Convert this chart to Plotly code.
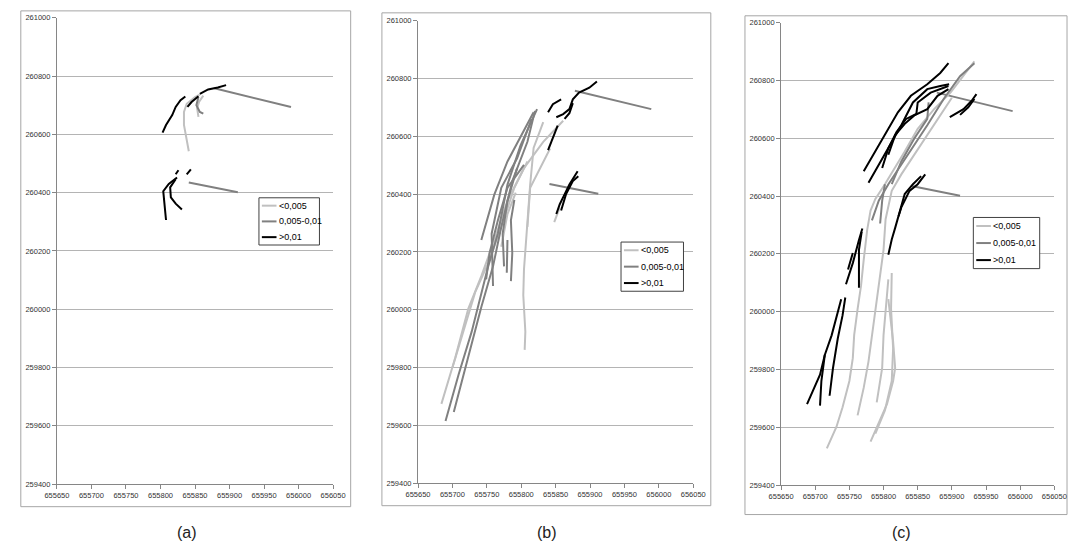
import plotly.graph_objects as go

W, H = 1081, 553

# ---------------- data (easting, northing per track) ----------------
CATEGORIES = ["<0,005", "0,005-0,01", ">0,01"]
X_TICKS = [655650, 655700, 655750, 655800, 655850, 655900, 655950, 656000, 656050]
Y_TICKS = [259400, 259600, 259800, 260000, 260200, 260400, 260600, 260800, 261000]
PANEL_LABELS = ["(a)", "(b)", "(c)"]

# reference transect lines (same in all panels)
ref_x = [[655878, 655989], [655841, 655912]]
ref_y = [[260758, 260694], [260435, 260401]]

# ---- panel (a)
a_low_x = [[655841, 655838, 655834, 655834, 655838, 655850, 655857],
           [655862, 655856, 655853, 655855]]
a_low_y = [[260542, 260576, 260632, 260677, 260705, 260728, 260736],
           [260733, 260712, 260690, 260660]]
a_mid_x = [[655855, 655852, 655857, 655862]]
a_mid_y = [[260728, 260700, 260677, 260671]]
a_high_x = [[655803, 655808, 655817, 655822, 655829, 655836],
            [655839, 655845, 655855],
            [655857, 655869, 655883, 655895],
            [655808, 655806, 655804, 655812, 655824],
            [655831, 655822, 655815, 655814, 655822],
            [655822, 655826],
            [655838, 655844]]
a_high_y = [[260606, 260632, 260666, 260694, 260717, 260730],
            [260694, 260711, 260731],
            [260739, 260754, 260761, 260769],
            [260306, 260373, 260405, 260430, 260452],
            [260342, 260362, 260384, 260418, 260446],
            [260463, 260477],
            [260463, 260480]]

# ---- panel (b)
b_low_x = [[655684, 655704, 655723, 655742, 655761, 655780, 655804, 655832, 655861],
           [655832, 655818, 655813, 655809, 655804, 655803, 655806, 655805],
           [655842, 655828, 655813, 655809],
           [655792, 655780, 655771],
           [655700, 655719, 655733, 655752, 655771, 655790, 655809],
           [655848, 655856]]
b_low_y = [[259674, 259833, 260003, 260116, 260241, 260377, 260490, 260581, 260654],
           [260649, 260560, 260433, 260286, 260139, 260050, 259924, 259861],
           [260558, 260490, 260422, 260286],
           [260405, 260331, 260218],
           [259799, 259946, 260060, 260161, 260286, 260422, 260513],
           [260303, 260354]]
b_mid_x = [[655690, 655709, 655728, 655752, 655766, 655780, 655799, 655823],
           [655702, 655723, 655742, 655759, 655771, 655787, 655809, 655820],
           [655742, 655761, 655780, 655818],
           [655759, 655757, 655771, 655794, 655815],
           [655775, 655773, 655780, 655794],
           [655785, 655787, 655785, 655790],
           [655779, 655780],
           [655749, 655754, 655766, 655780, 655804]]
b_mid_y = [[259615, 259776, 259924, 260150, 260263, 260433, 260569, 260694],
           [259646, 259833, 260009, 260150, 260286, 260445, 260581, 260688],
           [260241, 260399, 260513, 260683],
           [260082, 260263, 260422, 260524, 260660],
           [260150, 260263, 260377, 260490],
           [260099, 260196, 260309, 260380],
           [260128, 260241],
           [260105, 260196, 260309, 260422, 260501]]
b_high_x = [[655839, 655846, 655853],
            [655851, 655861, 655870, 655875, 655884, 655899, 655910],
            [655863, 655870, 655875],
            [655839, 655846, 655858],
            [655851, 655856, 655863, 655870, 655882],
            [655858, 655865, 655875, 655883]]
b_high_y = [[260552, 260592, 260637],
            [260666, 260677, 260694, 260728, 260751, 260768, 260790],
            [260660, 260680, 260715],
            [260683, 260711, 260728],
            [260331, 260365, 260399, 260433, 260479],
            [260343, 260399, 260445, 260462]]

# ---- panel (c)
c_low_x = [[655717, 655731, 655740, 655750, 655755, 655757, 655762, 655767, 655771, 655776,
            655781, 655788, 655802, 655817, 655831, 655850, 655874, 655898, 655917, 655933],
           [655762, 655771, 655778, 655783, 655788, 655795, 655800, 655803, 655812, 655826,
            655845, 655864, 655883, 655900],
           [655781, 655793, 655805, 655814, 655817, 655814, 655809, 655807],
           [655790, 655798, 655800, 655805, 655807],
           [655812, 655811, 655814, 655812, 655802, 655788]]
c_low_y = [[259527, 259601, 259669, 259760, 259839, 259919, 260009, 260089, 260180, 260282,
            260350, 260390, 260441, 260497, 260554, 260633, 260701, 260758, 260815, 260866],
           [259641, 259737, 259828, 259919, 260009, 260123, 260214, 260320, 260418, 260475,
            260543, 260611, 260679, 260740],
           [259550, 259612, 259680, 259760, 259805, 259896, 259987, 260043],
           [259686, 259805, 259919, 260043, 260112],
           [260134, 260009, 259873, 259760, 259658, 259578]]
c_mid_x = [[655783, 655793, 655807, 655826, 655845, 655864, 655888, 655912, 655933],
           [655812, 655826, 655845, 655864, 655866],
           [655795, 655798, 655802]]
c_mid_y = [[260316, 260384, 260441, 260509, 260577, 260645, 260736, 260815, 260860],
           [260441, 260520, 260599, 260667, 260724],
           [260305, 260384, 260441]]
c_high_x = [[655771, 655788, 655802, 655821, 655840, 655864, 655883, 655895],
            [655778, 655798, 655812, 655826, 655843, 655864, 655883, 655896],
            [655798, 655807, 655819, 655833, 655848, 655850, 655869, 655895],
            [655807, 655817, 655831, 655845, 655864, 655879, 655895],
            [655897, 655917, 655929, 655936],
            [655912, 655924, 655933],
            [655807, 655812, 655817, 655824, 655831, 655843, 655855],
            [655822, 655826, 655838, 655850, 655861],
            [655745, 655755, 655764, 655769],
            [655764, 655764, 655768],
            [655748, 655755],
            [655688, 655707, 655714, 655724, 655738],
            [655721, 655726, 655733, 655740, 655744],
            [655707, 655709, 655714]]
c_high_y = [[260486, 260554, 260611, 260690, 260747, 260787, 260826, 260860],
            [260446, 260531, 260588, 260645, 260724, 260770, 260781, 260787],
            [260497, 260565, 260622, 260667, 260684, 260724, 260758, 260781],
            [260543, 260611, 260650, 260679, 260701, 260747, 260770],
            [260673, 260701, 260730, 260753],
            [260681, 260707, 260736],
            [260197, 260250, 260290, 260350, 260407, 260441, 260469],
            [260330, 260361, 260418, 260441, 260475],
            [260095, 260168, 260248, 260288],
            [260083, 260214, 260276],
            [260146, 260203],
            [259680, 259782, 259850, 259918, 260043],
            [259709, 259805, 259907, 259987, 260049],
            [259675, 259760, 259850]]

PANELS = [
    (a_low_x, a_low_y, a_mid_x, a_mid_y, a_high_x, a_high_y),
    (b_low_x, b_low_y, b_mid_x, b_mid_y, b_high_x, b_high_y),
    (c_low_x, c_low_y, c_mid_x, c_mid_y, c_high_x, c_high_y),
]

# ---------------- styling / layout ----------------
COLORS = ["#c0c0c0", "#808080", "#000000"]
WIDTHS = [2, 2, 2]
# plot area pixel boxes (x0, x1, ytop, ybottom)
PLOT_PX = [(45, 328, 14, 488), (415, 697, 17, 487), (787, 1067, 19, 489)]
BOX_PX = [(8, 346, 7, 511), (378, 715, 9, 510), (750, 1080, 12, 519)]
# legend boxes (x0, x1, ytop, ybottom)
LEG_PX = [(252, 314, 197, 245), (623, 687, 242, 292), (984, 1052, 217, 269)]
LABEL_X = [178, 547, 910]


def join(xs, ys):
    ox, oy = [], []
    for x, y in zip(xs, ys):
        ox += list(x) + [None]
        oy += list(y) + [None]
    return ox, oy


def px(x):
    return x / W


def py(y):
    return 1 - y / H


fig = go.Figure()
layout = dict(width=W, height=H, margin=dict(l=0, r=0, t=0, b=0),
              paper_bgcolor="white", plot_bgcolor="white", showlegend=False,
              font=dict(family="Liberation Sans, Arial, sans-serif", color="#333333"))
shapes, annotations = [], []

for i, data in enumerate(PANELS):
    sfx = "" if i == 0 else str(i + 1)
    xa, ya = "x" + sfx, "y" + sfx
    # reference transects
    rx, ry = join(ref_x, ref_y)
    fig.add_trace(go.Scatter(x=rx, y=ry, mode="lines", xaxis=xa, yaxis=ya,
                             line=dict(color="#808080", width=2),
                             showlegend=False, hoverinfo="skip"))
    for k in range(3):
        tx, ty = join(data[2 * k], data[2 * k + 1])
        fig.add_trace(go.Scatter(x=tx, y=ty, mode="lines", name=CATEGORIES[k],
                                 xaxis=xa, yaxis=ya,
                                 line=dict(color=COLORS[k], width=WIDTHS[k]),
                                 connectgaps=False, showlegend=False))
    x0, x1, yt, yb = PLOT_PX[i]
    axis_common = dict(showline=True, linecolor="#868686", linewidth=1,
                       ticks="outside", ticklen=4, tickcolor="#868686",
                       tickfont=dict(size=7.5, color="#333333"),
                       tickformat="d", zeroline=False)
    layout["xaxis" + sfx] = dict(domain=[px(x0), px(x1)], anchor=ya,
                                 range=[X_TICKS[0], X_TICKS[-1]],
                                 tickvals=X_TICKS, showgrid=False, **axis_common)
    layout["yaxis" + sfx] = dict(domain=[py(yb), py(yt)], anchor=xa,
                                 range=[Y_TICKS[0], Y_TICKS[-1]],
                                 tickvals=Y_TICKS, showgrid=True,
                                 gridcolor="#b4b4b4", gridwidth=1, **axis_common)
    # outer panel frame
    bx0, bx1, byt, byb = BOX_PX[i]
    shapes.append(dict(type="rect", xref="paper", yref="paper",
                       x0=px(bx0), x1=px(bx1), y0=py(byb), y1=py(byt),
                       line=dict(color="#a6a6a6", width=1), layer="below"))
    # legend box
    lx0, lx1, lyt, lyb = LEG_PX[i]
    shapes.append(dict(type="rect", xref="paper", yref="paper",
                       x0=px(lx0), x1=px(lx1), y0=py(lyb), y1=py(lyt),
                       line=dict(color="#404040", width=1), fillcolor="white",
                       layer="above"))
    step = (lyb - lyt) / 3.0
    for k in range(3):
        ry_ = lyt + step * (k + 0.5)
        shapes.append(dict(type="line", xref="paper", yref="paper",
                           x0=px(lx0 + 3), x1=px(lx0 + 18), y0=py(ry_), y1=py(ry_),
                           line=dict(color=COLORS[k], width=WIDTHS[k]), layer="above"))
        annotations.append(dict(text=CATEGORIES[k], xref="paper", yref="paper",
                                x=px(lx0 + 18), y=py(ry_), showarrow=False,
                                xanchor="left", yanchor="middle",
                                font=dict(size=9, color="#000000")))
    annotations.append(dict(text=PANEL_LABELS[i], xref="paper", yref="paper",
                            x=px(LABEL_X[i]), y=py(537), showarrow=False,
                            xanchor="center", yanchor="middle",
                            font=dict(size=16, color="#222222")))

layout["shapes"] = shapes
layout["annotations"] = annotations
fig.update_layout(**layout)
fig.write_html("out.html")
